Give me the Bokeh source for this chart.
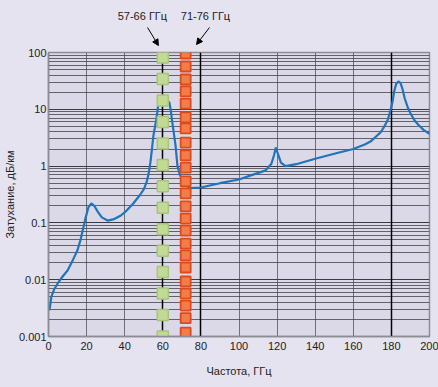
from bokeh.plotting import figure
from bokeh.layouts import column
from bokeh.models import (Range1d, FixedTicker, Grid, Arrow, NormalHead)
from bokeh.core.properties import value
from bokeh.embed import file_html
from bokeh.resources import INLINE

# ---- data ----
freq = [0.5, 1.5, 3, 5.2, 7.5, 10, 13, 15.2, 16.8, 18, 19.4, 21, 22.5, 24, 26, 28, 31,
        34, 38, 41, 44.5, 48, 50, 51.4, 52.5, 53.5, 54.3, 55.1, 56.7, 57.7, 59, 60.5,
        62, 63.5, 64.2, 65, 66.7, 67.7, 69, 70.3, 72, 74.5, 80, 90, 100, 107, 114, 117,
        118.5, 119.3, 120.3, 122, 124.4, 130, 140, 150, 160, 166, 169, 172.7, 174.3,
        176, 178, 179.5, 180.5, 181.5, 182.5, 183.7, 184.8, 185.8, 187, 188.5, 190,
        192, 194, 197, 200]
atten = [0.0029, 0.005, 0.0068, 0.009, 0.0115, 0.0145, 0.023, 0.033, 0.05, 0.075, 0.12,
         0.19, 0.22, 0.2, 0.155, 0.125, 0.11, 0.115, 0.135, 0.165, 0.22, 0.31, 0.39, 0.51,
         0.72, 1.16, 2.0, 3.5, 6.9, 12.9, 15, 15.5, 15, 13, 9.5, 5.9, 2.3, 1.0, 0.7, 0.56,
         0.46, 0.41, 0.42, 0.5, 0.58, 0.7, 0.84, 1.1, 1.6, 2.12, 1.7, 1.15, 1.0, 1.08,
         1.35, 1.65, 2.0, 2.4, 2.7, 3.5, 3.9, 4.8, 6.4, 9.5, 13, 21, 28, 31, 29, 23, 15.5,
         11, 8.5, 6.5, 5.4, 4.3, 3.7]

band1_x = 60
band1_y = [0.001, 0.00239, 0.0057, 0.0136, 0.0324, 0.0774, 0.185, 0.441, 1.05, 2.51,
           6.0, 14.3, 34.2, 81.5]
band2_x = 72
band2_y = [0.00117, 0.0021, 0.0035, 0.0057, 0.0093, 0.0164, 0.0267, 0.043, 0.073, 0.119,
           0.195, 0.33, 0.54, 0.94, 1.54, 2.6, 4.6, 7.2, 12.6, 20.6, 33.5, 56.7, 96]

x_ticks = [0, 20, 40, 60, 80, 100, 120, 140, 160, 180, 200]
y_ticks = [0.001, 0.01, 0.1, 1, 10, 100]
y_tick_labels = ["0.001", "0.01", "0.1", "1", "10", "100"]
band_labels = ["57-66 ГГц", "71-76 ГГц"]
band_label_x = [49.3, 82.4]
x_label = "Частота, ГГц"
y_label = "Затухание, дБ/км"

FONT = "Liberation Sans"
PAGE_BG = "#e5e3ef"
TEXT = "#222222"

xr = Range1d(0, 200)

# ---- header strip with band captions and arrows ----
top = figure(width=438, height=48, output_backend="svg", toolbar_location=None,
             x_range=xr, y_range=Range1d(0, 48),
             x_axis_location=None, y_axis_location=None,
             min_border_left=48, min_border_right=9, min_border_top=0, min_border_bottom=0)
top.border_fill_color = PAGE_BG
top.background_fill_color = PAGE_BG
top.outline_line_color = None
top.grid.visible = False
top.text(band_label_x, [33, 33], text=band_labels, text_align="center",
         text_baseline="middle", text_font=value(FONT), text_font_size="11px",
         text_color=TEXT)
top.add_layout(Arrow(x_start=52, y_start=21, x_end=57.7, y_end=3,
                     line_color="black", line_width=1,
                     end=NormalHead(size=6, fill_color="black", line_color="black")))
top.add_layout(Arrow(x_start=84.5, y_start=21, x_end=77.7, y_end=4,
                     line_color="black", line_width=1,
                     end=NormalHead(size=6, fill_color="black", line_color="black")))

# ---- main chart ----
p = figure(width=438, height=339, output_backend="svg", toolbar_location=None,
           x_range=xr, y_range=Range1d(0.001, 100), y_axis_type="log",
           min_border_left=48, min_border_right=9, min_border_top=4, min_border_bottom=51)

p.border_fill_color = PAGE_BG
p.background_fill_color = "#dbd9e8"
p.outline_line_color = "#8c8c94"
p.outline_line_width = 1.5

p.xaxis.ticker = FixedTicker(ticks=x_ticks)
minor = [m * t for t in y_ticks[:-1] for m in range(2, 10)]
p.yaxis.ticker = FixedTicker(ticks=y_ticks, minor_ticks=minor)
p.yaxis.major_label_overrides = {t: l for t, l in zip(y_ticks, y_tick_labels)}
for ax in (p.xaxis[0], p.yaxis[0]):
    ax.axis_line_color = "#8c8c94"
    ax.axis_line_width = 1.5
    ax.major_tick_line_color = None
    ax.minor_tick_line_color = None
    ax.major_tick_out = 0
    ax.minor_tick_out = 0
    ax.major_tick_in = 0
    ax.minor_tick_in = 0
    ax.major_label_text_font = FONT
    ax.major_label_text_font_size = "11px"
    ax.major_label_text_color = TEXT
    ax.axis_label_text_font = FONT
    ax.axis_label_text_font_size = "11px"
    ax.axis_label_text_font_style = "normal"
    ax.axis_label_text_color = TEXT
p.xaxis.axis_label = x_label
p.yaxis.axis_label = y_label
p.xaxis.major_label_standoff = 5
p.xaxis.axis_label_standoff = 12
p.yaxis.major_label_standoff = 2
p.yaxis.axis_label_standoff = 0

p.xgrid.grid_line_color = "#707078"
p.xgrid.grid_line_width = 1
p.ygrid.grid_line_color = "#3a3a40"
p.ygrid.grid_line_width = 1
p.ygrid.minor_grid_line_color = "#3a3a40"
p.ygrid.minor_grid_line_alpha = 0.75
p.ygrid.minor_grid_line_width = 1
p.add_layout(Grid(dimension=0, ticker=FixedTicker(ticks=[60, 80, 180]),
                  grid_line_color="black", grid_line_width=1.5))

p.line(freq, atten, line_color="#1f74bb", line_width=2.2)

p.scatter([band1_x] * len(band1_y), band1_y, marker="square", size=11,
          fill_color="#c2da95", line_color="#a6c57c", line_width=1.5)
p.scatter([band2_x] * len(band2_y), band2_y, marker="square", size=10,
          fill_color="#f37d48", line_color="#dd4a1e", line_width=1.8)

layout = column(top, p, spacing=0)
layout.styles = {"background-color": PAGE_BG}
open("out.html", "w").write(file_html(layout, INLINE))
